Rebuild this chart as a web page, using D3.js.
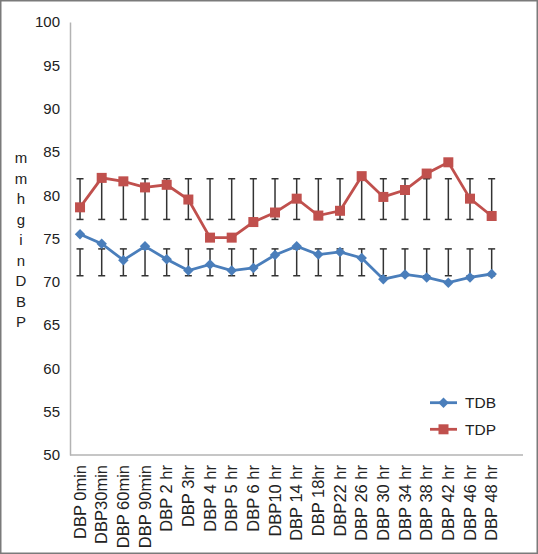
<!DOCTYPE html>
<html>
<head>
<meta charset="utf-8">
<script src="https://cdn.jsdelivr.net/npm/d3@7"></script>
<style>
  html, body { margin: 0; padding: 0; background: #fff; }
  svg { display: block; }
  text { font-family: "Liberation Sans", Arial, sans-serif; fill: #222; }
</style>
</head>
<body>
<svg id="chart" width="538" height="554"></svg>
<script>
// ---- data ----
const categories = ["DBP 0min","DBP30min","DBP 60min","DBP 90min","DBP 2 hr","DBP 3hr","DBP 4 hr","DBP 5 hr","DBP 6 hr","DBP10 hr","DBP 14 hr","DBP 18hr","DBP22 hr","DBP 26 hr","DBP 30 hr","DBP 34 hr","DBP 38 hr","DBP 42 hr","DBP 46 hr","DBP 48 hr"];
const tdb = [75.5,74.4,72.5,74.1,72.6,71.3,72.0,71.3,71.6,73.1,74.1,73.15,73.45,72.75,70.3,70.85,70.5,69.9,70.5,70.9];
const tdp = [78.6,82.0,81.6,80.9,81.2,79.5,75.1,75.1,76.9,78.0,79.6,77.65,78.2,82.2,79.8,80.6,82.5,83.8,79.6,77.6];
const tdbErrLow = 70.7, tdbErrHigh = 73.8;
const tdpErrLow = 77.2, tdpErrHigh = 81.9;
const yTicks = [50,55,60,65,70,75,80,85,90,95,100];
const seriesNames = ["TDB","TDP"];
const yAxisTitle = "mmhginDBP";

// ---- layout ----
const svg = d3.select("#chart");
const blue = "#4a7ebb", red = "#c0504d";

svg.append("rect").attr("x",0.75).attr("y",0.75).attr("width",536.5).attr("height",552.5)
  .attr("fill","#fff").attr("stroke","#7a7a7a").attr("stroke-width",1.5);

const x = d3.scaleBand().domain(categories).range([69.2, 502.5]);
const y = d3.scaleLinear().domain([50,100]).range([455, 22]);
const cx = d => x(d) + x.bandwidth()/2;

// y axis
const yAxis = svg.append("g").attr("transform","translate(70,0)")
  .call(d3.axisLeft(y).tickValues(yTicks).tickSize(0).tickPadding(10).tickFormat(d3.format("d")));
yAxis.select(".domain").attr("stroke","#b3b3b3").attr("stroke-width",1.5);
yAxis.selectAll("text").attr("font-size",15).style("font-family","'Liberation Sans', Arial, sans-serif").attr("fill","#222");

// x axis
const xAxis = svg.append("g").attr("transform","translate(0,455)")
  .call(d3.axisBottom(x).tickSize(0).tickPadding(0));
xAxis.select(".domain").remove();
svg.append("line").attr("x1",70).attr("x2",523).attr("y1",455).attr("y2",455)
  .attr("stroke","#b3b3b3").attr("stroke-width",1.5);
xAxis.selectAll("text")
  .attr("font-size",16.5).style("font-family","'Liberation Sans', Arial, sans-serif").attr("fill","#222")
  .attr("text-anchor","end").attr("transform","translate(0,10) rotate(-90)")
  .attr("x",0).attr("y",0).attr("dy","0.35em");

// y axis title (stacked letters)
svg.append("g").selectAll("text").data(yAxisTitle.split("")).join("text")
  .attr("x",21).attr("y",(d,i)=>163 + i*20.5).attr("text-anchor","middle")
  .attr("font-size",15).text(d=>d);

// error bars
function errBars(lo, hi) {
  const g = svg.append("g").attr("stroke","#333").attr("stroke-width",1.5);
  categories.forEach(c => {
    const xc = cx(c);
    g.append("line").attr("x1",xc).attr("x2",xc).attr("y1",y(lo)).attr("y2",y(hi));
    g.append("line").attr("x1",xc-3.5).attr("x2",xc+3.5).attr("y1",y(lo)).attr("y2",y(lo));
    g.append("line").attr("x1",xc-3.5).attr("x2",xc+3.5).attr("y1",y(hi)).attr("y2",y(hi));
  });
}
errBars(tdpErrLow, tdpErrHigh);
errBars(tdbErrLow, tdbErrHigh);

const line = d3.line().x((d,i)=>cx(categories[i])).y(d=>y(d));

// TDB
svg.append("path").datum(tdb).attr("d",line).attr("fill","none").attr("stroke",blue).attr("stroke-width",2.8);
svg.append("g").selectAll("path").data(tdb).join("path")
  .attr("d", d3.symbol().type(d3.symbolDiamond2).size(70))
  .attr("transform",(d,i)=>`translate(${cx(categories[i])},${y(d)})`)
  .attr("fill",blue);

// TDP
svg.append("path").datum(tdp).attr("d",line).attr("fill","none").attr("stroke",red).attr("stroke-width",2.8);
svg.append("g").selectAll("rect").data(tdp).join("rect")
  .attr("x",(d,i)=>cx(categories[i])-5).attr("y",d=>y(d)-5)
  .attr("width",10).attr("height",10).attr("fill",red);

// legend
const leg = svg.append("g");
const colors = [blue, red];
seriesNames.forEach((name,i) => {
  const ly = 402.7 + i*26.6;
  leg.append("line").attr("x1",430).attr("x2",457).attr("y1",ly).attr("y2",ly)
    .attr("stroke",colors[i]).attr("stroke-width",2.8);
  if (i === 0) {
    leg.append("path").attr("d", d3.symbol().type(d3.symbolDiamond2).size(70))
      .attr("transform",`translate(443.5,${ly})`).attr("fill",colors[i]);
  } else {
    leg.append("rect").attr("x",438.5).attr("y",ly-5).attr("width",10).attr("height",10).attr("fill",colors[i]);
  }
  leg.append("text").attr("x",465).attr("y",ly).attr("dy","0.35em").attr("font-size",15.5).text(name);
});
</script>
</body>
</html>
